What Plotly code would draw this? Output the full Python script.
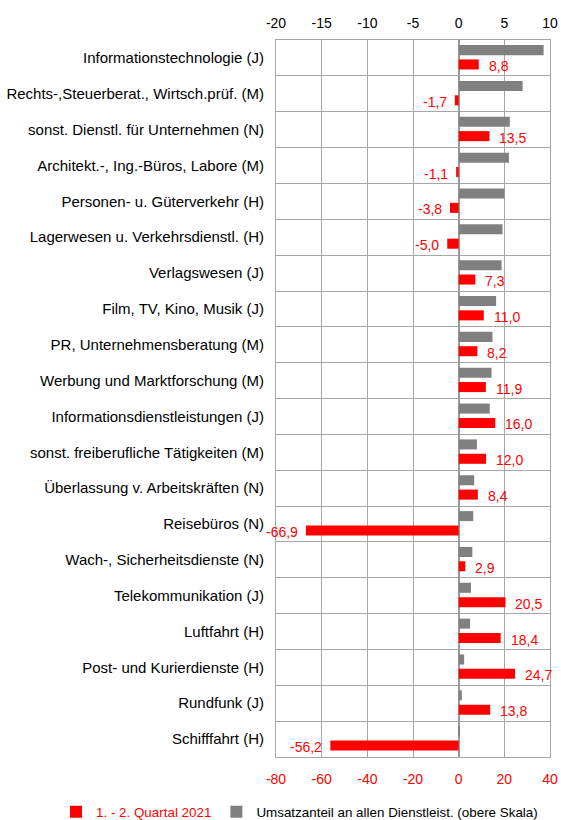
import plotly.graph_objects as go

categories = [
    "Informationstechnologie (J)",
    "Rechts-,Steuerberat., Wirtsch.prüf. (M)",
    "sonst. Dienstl. für Unternehmen (N)",
    "Architekt.-, Ing.-Büros, Labore (M)",
    "Personen- u. Güterverkehr (H)",
    "Lagerwesen u. Verkehrsdienstl. (H)",
    "Verlagswesen (J)",
    "Film, TV, Kino, Musik (J)",
    "PR, Unternehmensberatung (M)",
    "Werbung und Marktforschung (M)",
    "Informationsdienstleistungen (J)",
    "sonst. freiberufliche Tätigkeiten (M)",
    "Überlassung v. Arbeitskräften (N)",
    "Reisebüros (N)",
    "Wach-, Sicherheitsdienste (N)",
    "Telekommunikation (J)",
    "Luftfahrt (H)",
    "Post- und Kurierdienste (H)",
    "Rundfunk (J)",
    "Schifffahrt (H)",
]
change_h1_2021 = [8.8, -1.7, 13.5, -1.1, -3.8, -5.0, 7.3, 11.0, 8.2, 11.9,
                  16.0, 12.0, 8.4, -66.9, 2.9, 20.5, 18.4, 24.7, 13.8, -56.2]
share_turnover = [9.3, 7.0, 5.6, 5.5, 5.0, 4.8, 4.7, 4.1, 3.7, 3.6,
                  3.4, 2.0, 1.7, 1.6, 1.5, 1.35, 1.25, 0.6, 0.35, 0.15]

bottom_ticks = [-80, -60, -40, -20, 0, 20, 40]
top_ticks = [-20, -15, -10, -5, 0, 5, 10]

RED = "#ff0000"
GRAY = "#808080"
GRID = "#a6a6a6"
FONT = "Liberation Sans, Arial, sans-serif"

fig = go.Figure()
fig.add_trace(go.Bar(
    y=categories, x=share_turnover, orientation="h", xaxis="x2", yaxis="y",
    marker=dict(color=GRAY, line=dict(width=0)), width=0.28, offset=-0.36,
    name="Umsatzanteil an allen Dienstleist. (obere Skala)", legendrank=2,
    hoverinfo="x+y",
))
fig.add_trace(go.Bar(
    y=categories, x=change_h1_2021, orientation="h", xaxis="x", yaxis="y",
    marker=dict(color=RED, line=dict(width=0)), width=0.28, offset=0.04,
    name="<span style='color:#ff0000'>1. - 2. Quartal 2021</span>", legendrank=1,
    hoverinfo="x+y",
))

# value labels
for c, v in zip(categories, change_h1_2021):
    lab = f"{v:.1f}".replace(".", ",")
    fig.add_annotation(
        x=v, y=c, xref="x", yref="y", text=lab, showarrow=False,
        xanchor="left" if v >= 0 else "right",
        xshift=8 if v >= 0 else -6, yshift=-8,
        font=dict(color=RED, size=14, family=FONT),
    )

fig.update_layout(
    width=561, height=820,
    margin=dict(l=276, r=11, t=40, b=63, autoexpand=False),
    paper_bgcolor="white", plot_bgcolor="white",
    font=dict(family=FONT, size=14, color="black"),
    barmode="overlay",
    showlegend=True,
    legend=dict(orientation="h", x=(56 - 276) / 274, xref="paper", xanchor="left",
                y=-55 / 717, yref="paper", yanchor="middle",
                font=dict(size=13.4, color="black"),
                itemwidth=30, traceorder="normal", tracegroupgap=0),
    xaxis=dict(range=[-80, 40], tickvals=bottom_ticks,
               ticktext=[str(t) for t in bottom_ticks], side="bottom",
               tickfont=dict(color=RED, size=14), showgrid=True, gridcolor=GRID,
               zeroline=True, zerolinecolor="#999999", zerolinewidth=1.5,
               showline=True, linecolor=GRID, mirror=True, ticks="",
               ticklabelstandoff=9, automargin=False, fixedrange=True),
    xaxis2=dict(range=[-20, 10], tickvals=top_ticks,
                ticktext=[str(t) for t in top_ticks], side="top", overlaying="x",
                tickfont=dict(color="black", size=14), showgrid=False,
                zeroline=False, showline=False, ticks="",
                ticklabelstandoff=8, automargin=False, fixedrange=True),
    yaxis=dict(type="category", autorange="reversed", tickson="boundaries",
               showgrid=True, gridcolor=GRID, showline=True, linecolor=GRID,
               mirror=True, ticks="", ticklabelstandoff=8,
               tickfont=dict(size=15, color="black"),
               automargin=False, fixedrange=True),
)

fig.write_html("out.html", config={"displayModeBar": False},
               post_script="document.body.style.margin='0';document.body.style.padding='0';")
